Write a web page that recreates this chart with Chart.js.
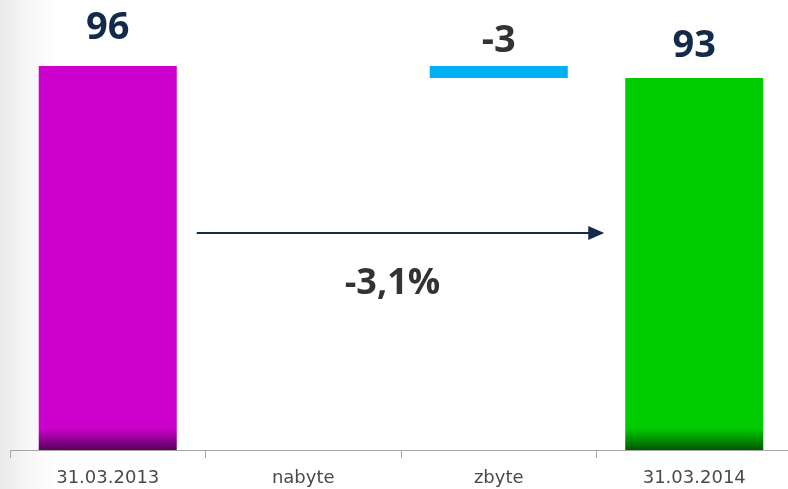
<!DOCTYPE html>
<html>
<head>
<meta charset="utf-8">
<script src="https://cdn.jsdelivr.net/npm/chart.js@4/dist/chart.umd.min.js"></script>
<style>
  html, body { margin: 0; padding: 0; overflow: hidden; }
  body { width: 788px; height: 489px; background: linear-gradient(to right, #e9e9e9 0px, #f6f6f6 25px, #ffffff 60px); }
  #wrap { width: 800px; height: 489px; }
  canvas { display: block; }
</style>
</head>
<body>
<div id="wrap"><canvas id="grafico-waterfall" width="800" height="489"></canvas></div>
<script>
// data
const kategorie = ['31.03.2013', 'nabyte', 'zbyte', '31.03.2014']
const zacatek = [0, null, 93, 0]
const konec = [96, null, 96, 93]
const popisky = ['96', '', '-3', '93']
const zmenaText = '-3,1%'

const barvy = ['#cc00cc', null, '#00b0f0', '#00cc00']
const barvyTmave = ['#5a005c', null, '#00b0f0', '#005800']
const barvyPopisku = ['#132a4a', '#132a4a', '#333333', '#132a4a']
const posunPopisku = [38, 0, 25, 32]

const hodnoty = kategorie.map((k, i) => zacatek[i] === null ? null : [zacatek[i], konec[i]])

function barvaSloupce(context) {
  const i = context.dataIndex
  const chart = context.chart
  const area = chart.chartArea
  if (!area || !barvy[i]) return barvy[i]
  const g = chart.ctx.createLinearGradient(0, area.bottom - 22, 0, area.bottom)
  g.addColorStop(0, barvy[i])
  g.addColorStop(1, barvyTmave[i])
  return g
}

const popiskyPlugin = {
  id: 'popisky',
  afterDatasetsDraw(chart) {
    const ctx = chart.ctx
    const meta = chart.getDatasetMeta(0)
    ctx.save()
    ctx.textAlign = 'center'
    ctx.textBaseline = 'middle'
    ctx.font = 'bold 38px "Open Sans"'
    meta.data.forEach((bar, i) => {
      if (!popisky[i]) return
      ctx.fillStyle = barvyPopisku[i]
      ctx.fillText(popisky[i], bar.x, bar.y - posunPopisku[i])
    })

    // sipka mezi prvnim a poslednim sloupcem
    const y = chart.scales.y
    const x1 = meta.data[0].x + meta.data[0].width / 2 + 20
    const x2 = meta.data[3].x - meta.data[3].width / 2 - 21
    const ya = y.getPixelForValue(54.25)
    ctx.strokeStyle = '#132a4a'
    ctx.fillStyle = '#132a4a'
    ctx.lineWidth = 2
    ctx.beginPath()
    ctx.moveTo(x1, ya)
    ctx.lineTo(x2 - 12, ya)
    ctx.stroke()
    ctx.beginPath()
    ctx.moveTo(x2, ya)
    ctx.lineTo(x2 - 16, ya - 7)
    ctx.lineTo(x2 - 16, ya + 7)
    ctx.closePath()
    ctx.fill()

    ctx.fillStyle = '#333333'
    ctx.font = 'bold 36px "Open Sans"'
    ctx.fillText(zmenaText, (x1 + x2) / 2 - 8, y.getPixelForValue(41.5))
    ctx.restore()
  }
}

new Chart(document.querySelector('#grafico-waterfall').getContext('2d'), {
  type: 'bar',
  data: {
    labels: kategorie,
    datasets: [{
      data: hodnoty,
      backgroundColor: barvaSloupce,
      borderWidth: 0,
      barPercentage: 0.706,
      categoryPercentage: 1
    }]
  },
  options: {
    responsive: false,
    animation: false,
    devicePixelRatio: 1,
    layout: { padding: { left: 10, right: 8, top: 10, bottom: 0 } },
    plugins: { legend: { display: false }, tooltip: { enabled: false } },
    scales: {
      x: {
        grid: { display: true, drawOnChartArea: false, drawTicks: true, tickLength: 8, color: '#a6a6a6', offset: true },
        border: { display: true, color: '#a6a6a6', width: 1 },
        ticks: { color: '#4a4a4a', font: { family: 'DejaVu Sans', size: 18 }, padding: 10, maxRotation: 0 },
        afterFit(scale) { scale.height = 39 }
      },
      y: {
        display: false,
        min: 0,
        max: 110
      }
    }
  },
  plugins: [popiskyPlugin]
})
</script>
</body>
</html>
